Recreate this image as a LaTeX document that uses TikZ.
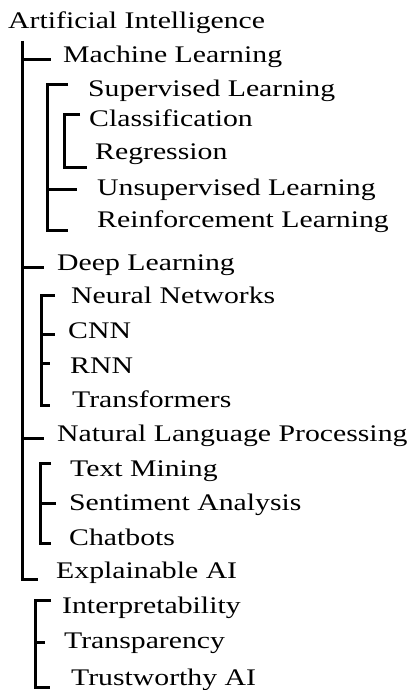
\documentclass[tikz,border=0pt]{standalone}
\usepackage{fontspec}
\setmainfont{Liberation Serif}[FakeStretch=1.25]

\begin{document}
\begin{tikzpicture}[x=1pt,y=-1pt,
    topic/.style={anchor=base west,inner sep=0pt,font=\fontsize{23.8}{28}\selectfont},
    branch/.style={line width=3pt}]
    \useasboundingbox (0,0) rectangle (409,690);
    % ------------------------------------------------------------------
    %                             NODES
    % ------------------------------------------------------------------
    % root
    \node[topic] (ai)  at (8,28.7) {Artificial Intelligence};
    % machine learning
    \node[topic] (ml)  at (63,63)  {Machine Learning};
    \node[topic] (sl)  at (88,97)  {Supervised Learning};
    \node[topic] (cls) at (89,126) {Classification};
    \node[topic] (reg) at (95,159) {Regression};
    \node[topic] (ul)  at (97,195) {Unsupervised Learning};
    \node[topic] (rl)  at (97,227) {Reinforcement Learning};
    % deep learning
    \node[topic] (dl)  at (57,270) {Deep Learning};
    \node[topic] (nn)  at (71,303) {Neural Networks};
    \node[topic] (cnn) at (68,338) {CNN};
    \node[topic] (rnn) at (70,373) {RNN};
    \node[topic] (tf)  at (72,407) {Transformers};
    % natural language processing
    \node[topic] (nlp) at (57,441) {Natural Language Processing};
    \node[topic] (tm)  at (70,476) {Text Mining};
    \node[topic] (sa)  at (69,510) {Sentiment Analysis};
    \node[topic] (cb)  at (69,545) {Chatbots};
    % explainable ai
    \node[topic] (xai) at (56,578) {Explainable AI};
    \node[topic] (ip)  at (62,613) {Interpretability};
    \node[topic] (tp)  at (64,648) {Transparency};
    \node[topic] (tw)  at (71,685) {Trustworthy AI};

    % spine tops and tick ends
    \coordinate (ai-s)  at (22,41);
    \coordinate (ml-s)  at (47,85);
    \coordinate (cls-s) at (64,115);
    \coordinate (nn-s)  at (41,295);
    \coordinate (tm-s)  at (40,463);
    \coordinate (ip-s)  at (35,600);
    \coordinate (ml-t)  at (51,60);
    \coordinate (sl-t)  at (68,85);
    \coordinate (cls-t) at (80,115);
    \coordinate (reg-t) at (87,167);
    \coordinate (ul-t)  at (77,189);
    \coordinate (rl-t)  at (68,230);
    \coordinate (dl-t)  at (44,267);
    \coordinate (nn-t)  at (55,295);
    \coordinate (cnn-t) at (55,334);
    \coordinate (rnn-t) at (50,363);
    \coordinate (tf-t)  at (50,405);
    \coordinate (nlp-t) at (44,438);
    \coordinate (tm-t)  at (51,463);
    \coordinate (sa-t)  at (56,503);
    \coordinate (cb-t)  at (51,543);
    \coordinate (xai-t) at (38,579);
    \coordinate (ip-t)  at (51,600);
    \coordinate (tp-t)  at (45,642);
    \coordinate (tw-t)  at (50,687);

    % ------------------------------------------------------------------
    %                             BRANCHES
    % ------------------------------------------------------------------
    % main spine
    \draw[branch] (ai-s) |- (xai-t);
    \draw[branch] (ai-s |- ml-t)  -- (ml-t);
    \draw[branch] (ai-s |- dl-t)  -- (dl-t);
    \draw[branch] (ai-s |- nlp-t) -- (nlp-t);
    % machine learning
    \draw[branch] (sl-t) -- (ml-s) |- (rl-t);
    \draw[branch] (ml-s |- ul-t) -- (ul-t);
    \draw[branch] (cls-t) -- (cls-s) |- (reg-t);
    % deep learning
    \draw[branch] (nn-t) -- (nn-s) |- (tf-t);
    \draw[branch] (nn-s |- cnn-t) -- (cnn-t);
    \draw[branch] (nn-s |- rnn-t) -- (rnn-t);
    % natural language processing
    \draw[branch] (tm-t) -- (tm-s) |- (cb-t);
    \draw[branch] (tm-s |- sa-t) -- (sa-t);
    % explainable ai
    \draw[branch] (ip-t) -- (ip-s) |- (tw-t);
    \draw[branch] (ip-s |- tp-t) -- (tp-t);
\end{tikzpicture}
\end{document}
